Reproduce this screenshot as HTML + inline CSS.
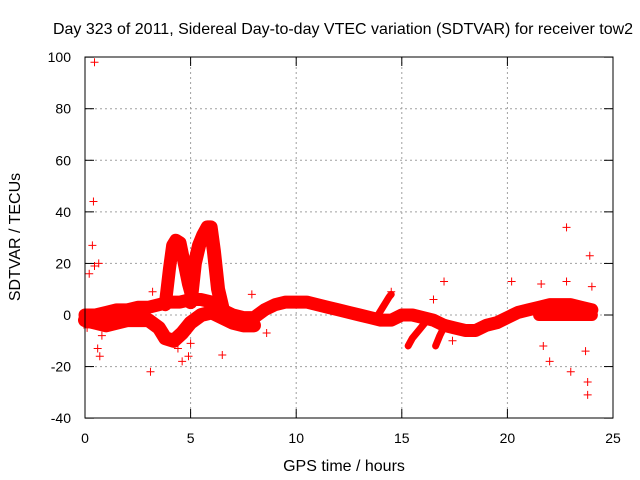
<!DOCTYPE html>
<html><head><meta charset="utf-8"><style>
body{margin:0;background:#fff}
svg{display:block;font-family:"Liberation Sans",sans-serif}
</style></head><body>
<svg id="c" width="640" height="480">
<text x="343" y="34" font-size="16" text-anchor="middle">Day 323 of 2011, Sidereal Day-to-day VTEC variation (SDTVAR) for receiver tow2</text>
<text x="0" y="0" font-size="16" text-anchor="middle" transform="translate(20,237) rotate(-90)">SDTVAR / TECUs</text>
<text x="344" y="471" font-size="16" text-anchor="middle">GPS time / hours</text>
<g id="grid"></g><g id="marks"></g>
<rect x="85" y="57" width="528" height="361" fill="none" stroke="#000" stroke-width="1"/>
</svg>
<script>
const xTicks=[0,5,10,15,20,25];
const yTicks=[-40,-20,0,20,40,60,80,100];
const bandMainT=[0,0.5,1,1.5,2,2.5,3,3.5,4,4.5,5,5.5,6,6.5,7,7.5,8,8.5,9,9.5,10,10.5,11,11.5,12,12.5,13,13.5,14,14.5,15,15.5,16,16.5,17,17.5,18,18.5,19,19.5,20,20.5,21,21.5,22,22.5,23,23.5,24];
const bandMainV=[0,0,1,2,2,3,3,4,5,5,6,6,5,2,0,-1,-1,2,4,5,5,5,4,3,2,1,0,-1,-2,-2,0,0,-1,-2,-4,-5,-6,-6,-4,-3,-1,1,2,3,4,4,4,3,2];
const bandLowT=[0,0.5,1,1.5,2,2.5,3,3.5,3.8,4.2,4.6,5,5.5,6,6.5,7,7.5,8];
const bandLowV=[-2,-3,-4,-3,-2,-2,-2,-5,-9,-10,-7,-3,0,1,-1,-3,-4,-4];
const spike1T=[3.8,4.0,4.15,4.3,4.5,4.7,4.9,5.1];
const spike1V=[4,18,27,29,28,20,12,6];
const spike2T=[5.0,5.2,5.4,5.6,5.8,5.95,6.1,6.3,6.5];
const spike2V=[5,20,27,31,34,34,25,10,3];
const tailT=[21.5,22,22.5,23,23.5,24];
const tailV=[0,0,0,0,0,0];
const branchT=[13.8,14.1,14.4,14.5];
const branchV=[-1,3,7,8];
const dip1T=[15.3,15.5,15.8,16.1];
const dip1V=[-12,-9,-6,-3];
const dip2T=[16.6,16.8,17.1];
const dip2V=[-12,-8,-3];
const outT=[0.45,0.4,0.35,0.45,0.65,0.2,0.6,0.7,3.1,4.6,4.9,6.5,3.2,7.9,8.6,14.5,16.5,17,17.4,20.2,21.6,22,21.7,22.8,22.8,23.9,23,23.8,23.8,23.7,24,0.1,0.8,4.4,5.0];
const outV=[98,44,27,19,20,16,-13,-16,-22,-18,-16,-15.5,9,8,-7,9,6,13,-10,13,12,-18,-12,34,13,23,-22,-26,-31,-14,11,-5,-8,-13,-11];
const NS='http://www.w3.org/2000/svg';
const X=t=>85+t*528/25, Y=v=>315-v*(361/140);
const g=document.getElementById('grid'), m=document.getElementById('marks');
function mk(tag,attrs,parent){const e=document.createElementNS(NS,tag);for(const k in attrs)e.setAttribute(k,attrs[k]);parent.appendChild(e);return e;}
xTicks.forEach(t=>{
  if(t>0&&t<25){const l=mk('line',{x1:X(t),x2:X(t),y1:57,y2:418,stroke:'#a0a0a0','stroke-dasharray':'2,3'},g);
  
  }
  mk('line',{x1:X(t),x2:X(t),y1:418,y2:409,stroke:'#000'},g);
  mk('line',{x1:X(t),x2:X(t),y1:57,y2:66,stroke:'#000'},g);
  const tx=mk('text',{x:X(t),y:443,'font-size':14,'text-anchor':'middle'},g);tx.textContent=t;
  
  
});
yTicks.forEach(v=>{
  if(v>-40&&v<100){const l=mk('line',{x1:85,x2:613,y1:Y(v),y2:Y(v),stroke:'#a0a0a0','stroke-dasharray':'2,3'},g);
  
  }
  mk('line',{x1:85,x2:94,y1:Y(v),y2:Y(v),stroke:'#000'},g);
  mk('line',{x1:613,x2:604,y1:Y(v),y2:Y(v),stroke:'#000'},g);
  const tx=mk('text',{x:71,y:Y(v)+5,'font-size':14,'text-anchor':'end'},g);tx.textContent=v;
  
  
});
function band(T,V,w,name){
  const p=mk('polyline',{points:T.map((t,i)=>X(t)+','+Y(V[i])).join(' '),fill:'none',stroke:'#f00','stroke-width':w,'stroke-linejoin':'round','stroke-linecap':'round'},m);
  
  
}
band(bandMainT,bandMainV,13,'main-band');
band(bandLowT,bandLowV,14,'lower-band');
band(spike1T,spike1V,13,'spike-1');
band(spike2T,spike2V,14,'spike-2');
band(tailT,tailV,12,'tail-band');
band(branchT,branchV,7,'branch-14h');
band(dip1T,dip1V,7,'dip-15h');
band(dip2T,dip2V,7,'dip-17h');
outT.forEach((t,i)=>{
  const x=X(t),y=Y(outV[i]);
  const p=mk('path',{d:`M${x-4},${y}H${x+4}M${x},${y-4}V${y+4}`,stroke:'#f00','stroke-width':1},m);
  
  
});
</script>
</body></html>
